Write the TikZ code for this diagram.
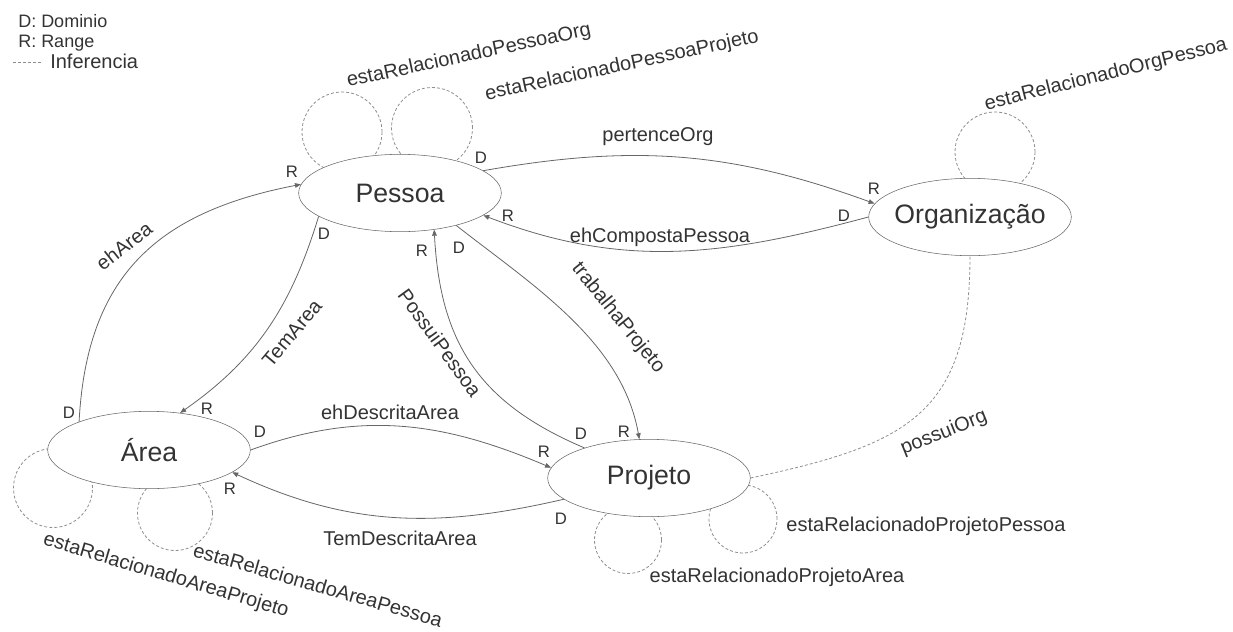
\documentclass[tikz,border=0pt]{standalone}
\usepackage{fontspec}
\setmainfont{Liberation Sans}
\usetikzlibrary{shapes.geometric,arrows.meta,backgrounds}
\definecolor{traco}{HTML}{666666}
\definecolor{tracejado}{HTML}{8E8E8E}
\definecolor{texto}{HTML}{333333}
\tikzset{
  classe/.style={ellipse, draw=traco, fill=white, minimum width=152pt, minimum height=58pt,
    inner xsep=-5pt, inner ysep=0pt, text=texto, font=\fontsize{20}{24}\selectfont},
  rel/.style={draw=traco, line width=0.6pt, -{Triangle[length=4.5pt,width=3.5pt]}},
  inferencia/.style={draw=tracejado, line width=0.6pt, dash pattern=on 2.2pt off 1.6pt},
  rotulo/.style={text=texto, inner sep=0pt, font=\fontsize{15}{18}\selectfont},
  papel/.style={text=texto, inner sep=0pt, font=\fontsize{12.5}{15}\selectfont},
  legenda/.style={text=texto, inner sep=0pt, anchor=base west, font=\fontsize{13.5}{16}\selectfont}
}

\begin{document}
\begin{tikzpicture}[x=0.75pt,y=0.75pt]
\useasboundingbox (0,0) rectangle (1233,-632);

% legenda
\node[legenda] (legD) at (18,-27) {D: Dominio};
\node[legenda] (legR) at (18,-47) {R: Range};
\coordinate (leg1) at (13,-62);
\coordinate (leg2) at (43,-62);
\draw[inferencia] (leg1) -- (leg2);
\node[legenda, font=\fontsize{15}{18}\selectfont] (legI) at (50,-68) {Inferencia};

% classes
\node[classe] (pessoa) at (400,-193) {Pessoa};
\node[classe] (org) at (970,-217) {Organização};
\node[classe] (area) at (149,-450) {Área};
\node[classe] (projeto) at (649,-478) {Projeto};

% auto-relacionamentos (atras das classes)
\begin{scope}[on background layer]
\foreach \x/\y/\r in {342/132/40, 432/128/40.5, 995/152/40, 53/488/39.5,
                      175/513/37.5, 628/540/33.5, 743/519/34}
    \draw[inferencia] (\x,-\y) circle[radius=\r];
\end{scope}

% relacoes
\draw[rel] (pessoa.15) to[out=10,in=160] (org.172);
\draw[rel] (org.180) to[out=195,in=-21] (pessoa.-15);
\draw[rel] (area.158) to[out=87,in=191,looseness=1.15] (pessoa.175);
\draw[rel] (pessoa.-164) to[out=253,in=35] (area.50);
\draw[rel] (area.0) to[out=20,in=157] (projeto.174);
\draw[rel] (projeto.194) to[out=193,in=-25] (area.-15);
\draw[rel] (projeto.155) to[out=157,in=-87,looseness=1.1] (pessoa.-47);
\draw[rel] (pessoa.-30) to[out=-38,in=100,looseness=0.9] (projeto.104);
\draw[inferencia] (projeto.0) to[out=12,in=-90,looseness=1.3] (org.-90);

% nomes das relacoes
\node[rotulo] (lpertence) at (658,-137) {pertenceOrg};
\node[rotulo] (lcomposta) at (660,-237) {ehCompostaPessoa};
\node[rotulo, rotate=38] (leharea) at (124,-246) {ehArea};
\node[rotulo, rotate=50] (ltemarea) at (292,-333) {TemArea};
\node[rotulo] (ldescrita) at (390,-412) {ehDescritaArea};
\node[rotulo] (ltemdescrita) at (400,-538) {TemDescritaArea};
\node[rotulo, rotate=-54] (lpossui) at (440,-343) {PossuiPessoa};
\node[rotulo, rotate=-51] (ltrabalha) at (618,-318) {trabalhaProjeto};
\node[rotulo, rotate=22] (lpossuiorg) at (944,-433) {possuiOrg};

% nomes dos auto-relacionamentos
\node[rotulo, rotate=12] (lpesorg) at (469,-56) {estaRelacionadoPessoaOrg};
\node[rotulo, rotate=12] (lpesproj) at (622,-66) {estaRelacionadoPessoaProjeto};
\node[rotulo, rotate=14] (lorgpes) at (1106,-75) {estaRelacionadoOrgPessoa};
\node[rotulo, rotate=-16.5] (lareaproj) at (166,-576) {estaRelacionadoAreaProjeto};
\node[rotulo, rotate=-16] (lareapes) at (318,-585) {estaRelacionadoAreaPessoa};
\node[rotulo] (lprojarea) at (777,-577) {estaRelacionadoProjetoArea};
\node[rotulo] (lprojpes) at (926,-526) {estaRelacionadoProjetoPessoa};

% dominio / range
\foreach \t/\x/\y [count=\i] in {D/481/158, R/874/189, D/844/216, R/508/216,
        D/69/413, R/292/172, D/324/234, R/207/409, R/422/251, D/581/434,
        D/459/248, R/624/432, D/260/432, R/544/452, D/561/519, R/230/489}
    \node[papel] (papel\i) at (\x,-\y) {\t};
\end{tikzpicture}
\end{document}
